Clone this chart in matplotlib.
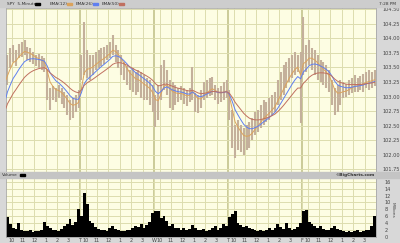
import matplotlib
matplotlib.use("Agg")
import matplotlib.pyplot as plt
import numpy as np
import pandas as pd

# 15-minute bars, 26 per session, 5 sessions
DAY_LETTERS = ["", "T", "W", "T", "F"]
HOUR_LABELS = ["10", "11", "12", "1", "2", "3"]
HOUR_OFFSETS = [2, 6, 10, 14, 18, 22]  # in 15-min bars after 9:30

HIGH = [
    103.72, 103.84, 103.89, 103.80, 103.90, 103.94, 103.97, 103.85, 103.84, 103.77,
    103.72, 103.73, 103.70, 103.66, 103.46, 103.15, 103.18, 103.15, 103.20, 103.15,
    103.08, 103.03, 102.94, 102.98, 103.03, 103.11,
    103.72, 104.28, 103.80, 103.72, 103.72, 103.77, 103.80, 103.84, 103.85, 103.89,
    103.94, 104.06, 103.89, 103.80, 103.72, 103.59, 103.53, 103.46, 103.49, 103.42,
    103.46, 103.42, 103.37, 103.32, 103.29, 103.20,
    103.03, 103.20, 103.54, 103.63, 103.46, 103.29, 103.25, 103.20, 103.15, 103.18,
    103.15, 103.11, 103.15, 103.51, 103.06, 103.03, 103.11, 103.25, 103.29, 103.32,
    103.34, 103.20, 103.15, 103.18, 103.25, 103.29,
    103.11, 102.77, 102.51, 102.60, 102.51, 102.46, 102.51, 102.56, 102.63, 102.74,
    102.77, 102.86, 102.94, 102.91, 102.98, 103.03, 103.08, 103.29, 103.42, 103.54,
    103.59, 103.66, 103.72, 103.77, 103.72, 103.77,
    104.37, 103.89, 103.97, 103.84, 103.80, 103.72, 103.63, 103.59, 103.54, 103.46,
    103.29, 103.15, 103.20, 103.29, 103.25, 103.22, 103.29, 103.32, 103.37, 103.32,
    103.35, 103.39, 103.42, 103.46, 103.42, 103.46,
]
LOW = [
    103.20, 103.49, 103.59, 103.53, 103.66, 103.68, 103.72, 103.63, 103.59, 103.56,
    103.53, 103.49, 103.46, 103.42, 102.94, 102.77, 102.94, 102.91, 102.98, 102.87,
    102.80, 102.68, 102.60, 102.63, 102.74, 102.80,
    103.29, 103.37, 103.32, 103.29, 103.37, 103.46, 103.49, 103.53, 103.56, 103.63,
    103.66, 103.72, 103.59, 103.49, 103.37, 103.29, 103.20, 103.11, 103.08, 103.03,
    103.08, 102.98, 102.94, 102.94, 102.86, 102.74,
    102.48, 102.60, 102.94, 103.11, 103.03, 102.80, 102.77, 102.86, 102.91, 102.94,
    102.87, 102.84, 102.91, 102.94, 102.74, 102.72, 102.80, 102.94, 102.98, 103.01,
    103.03, 102.94, 102.87, 102.91, 102.94, 102.98,
    102.60, 102.12, 101.95, 102.08, 102.05, 102.00, 102.08, 102.12, 102.25, 102.34,
    102.39, 102.46, 102.51, 102.56, 102.60, 102.68, 102.74, 102.86, 102.94, 103.03,
    103.15, 103.25, 103.32, 103.37, 103.42, 102.55,
    103.37, 103.42, 103.54, 103.46, 103.37, 103.29, 103.25, 103.20, 103.15, 103.08,
    102.86, 102.68, 102.74, 102.86, 102.98, 102.99, 103.03, 103.06, 103.08, 103.08,
    103.11, 103.08, 103.15, 103.11, 103.15, 103.18,
]
VOLUME = [  # millions
    5.6, 3.8, 2.6, 2.2, 4.0, 1.8, 1.6, 1.5, 1.8, 1.4, 1.6, 1.5, 1.8, 4.4, 3.2, 2.6,
    2.0, 1.8, 1.6, 2.2, 3.2, 3.8, 5.0, 3.4, 4.2, 8.0,
    6.0, 12.7, 9.6, 4.5, 3.9, 2.8, 2.2, 1.8, 2.0, 1.6, 2.4, 3.0, 2.2, 1.8, 1.6, 1.5,
    2.0, 1.8, 2.6, 3.2, 2.8, 3.8, 2.6, 3.4, 4.2, 7.0,
    7.4, 7.6, 5.5, 6.0, 4.5, 3.2, 3.6, 2.6, 2.4, 2.0, 2.6, 1.8, 2.2, 3.4, 2.4, 2.0,
    1.8, 2.2, 1.6, 1.8, 2.4, 3.0, 2.0, 2.6, 3.6, 3.2,
    5.6, 6.7, 7.5, 4.0, 3.5, 2.8, 3.0, 2.4, 2.2, 1.8, 1.6, 2.0, 1.5, 1.8, 2.4, 2.0,
    2.6, 3.6, 2.8, 2.2, 4.0, 2.4, 2.0, 2.2, 2.8, 4.0,
    7.4, 7.7, 4.2, 3.6, 3.2, 2.6, 3.0, 2.2, 1.8, 2.0, 2.4, 3.0, 2.2, 1.8, 1.5, 1.4,
    1.6, 1.3, 1.6, 1.8, 1.4, 1.6, 1.8, 2.0, 3.0, 6.0,
]

EMA_PERIODS = [12, 26, 50]           # on 5-minute bars
EMA_SEEDS = [103.29, 102.98, 102.80]  # values at the left edge
EMA_COLORS = ["#dba35c", "#5f7ff0", "#c0705f"]

PRICE_TICKS = [101.75 + 0.25 * k for k in range(12)]
VOL_TICKS = list(range(0, 17, 2))

BG = "#fdfde3"
GRID = "#dcdcae"
DAYGRID = "#cbcb98"
BAR = "#c4b09b"

bars_per_day = 26
n = len(HIGH)
x = np.arange(n) + 0.5
mid = (np.array(HIGH) + np.array(LOW)) / 2

fig = plt.figure(figsize=(4.0, 2.43), dpi=100)
fig.patch.set_facecolor("#d8d8d8")

# header strip and separator band
fig.patches.append(plt.Rectangle((0, 1 - 7.5 / 243), 1, 7.5 / 243, transform=fig.transFigure,
                                 color="#cdcdcd", zorder=0))
fig.patches.append(plt.Rectangle((0, 1 - 178 / 243), 1, 6 / 243, transform=fig.transFigure,
                                 color="#c4c4c4", zorder=0))

ax = fig.add_axes([6 / 400, 1 - 172 / 243, 370 / 400, 164.5 / 243])
vax = fig.add_axes([6 / 400, 1 - 236.5 / 243, 370 / 400, 58.5 / 243])

hour_ticks = [d * bars_per_day + o for d in range(5) for o in HOUR_OFFSETS]
day_ticks = [d * bars_per_day for d in range(1, 5)]

for a in (ax, vax):
    a.set_facecolor(BG)
    a.set_xlim(0, n)
    a.set_xticks(hour_ticks)
    a.grid(True, color=GRID, linewidth=0.7)
    a.set_axisbelow(True)
    for d in day_ticks:
        a.axvline(d, color=DAYGRID, linewidth=1.4, zorder=0.5)
    for s in a.spines.values():
        s.set_color("#a8a8a8")
        s.set_linewidth(0.6)
    a.tick_params(length=0, labelsize=3.6, colors="#444444")
    a.yaxis.tick_right()

# price bars
ax.vlines(x, LOW, HIGH, color=BAR, linewidth=1.5, zorder=2)

# EMAs
for period, seed, color in zip(EMA_PERIODS, EMA_SEEDS, EMA_COLORS):
    alpha = 1 - (1 - 2 / (period + 1)) ** 3
    ema = pd.Series(np.r_[seed, mid]).ewm(alpha=alpha, adjust=False).mean().to_numpy()
    ax.plot(np.r_[0, x], ema, color=color, linewidth=0.7, zorder=3)

ax.set_ylim(101.704, 104.531)
ax.set_yticks(PRICE_TICKS)
ax.set_yticklabels([f"{p:.2f}" for p in PRICE_TICKS])
ax.tick_params(axis="y", pad=4.5)
ax.set_xticklabels([])

# volume
vax.bar(x, VOLUME, width=1.0, color="black", linewidth=0, zorder=2)
vax.set_ylim(0, 17.2)
vax.set_yticks(VOL_TICKS)
vax.tick_params(axis="y", pad=6)
vax.set_xticks(hour_ticks + day_ticks)
vax.set_xticklabels(HOUR_LABELS * 5 + [DAY_LETTERS[d] for d in range(1, 5)])
vax.tick_params(axis="x", pad=1.2)

# header legend
fs = 3.1
ty = 1 - 4.0 / 243
fig.text(7 / 400, ty, "SPY  5-Minute", fontsize=fs, va="center", color="#333333")
fig.patches.append(plt.Rectangle((35 / 400, 1 - 5.0 / 243), 4.5 / 400, 2 / 243,
                                 transform=fig.transFigure, color="black"))
legend_items = [("EMA(12)", EMA_COLORS[0], 50), ("EMA(26)", EMA_COLORS[1], 76),
                ("EMA(50)", EMA_COLORS[2], 102)]
for label, color, xpos in legend_items:
    fig.text(xpos / 400, ty, label, fontsize=fs, va="center", color="#333333")
    fig.patches.append(plt.Rectangle(((xpos + 17) / 400, 1 - 5.0 / 243), 4.5 / 400, 2 / 243,
                                     transform=fig.transFigure, color=color))
fig.text(396 / 400, 1 - 3.6 / 243, "7:28 PM", fontsize=fs, va="center", ha="right",
         color="#333333")

fig.text(2 / 400, 1 - 175.3 / 243, "Volume", fontsize=fs, va="center", color="#333333")
fig.patches.append(plt.Rectangle((20 / 400, 1 - 176.2 / 243), 4.5 / 400, 1.8 / 243,
                                 transform=fig.transFigure, color="black"))
fig.text(375 / 400, 1 - 175.3 / 243, "\u00a9BigCharts.com", fontsize=fs, va="center",
         ha="right", color="#333333", fontweight="bold")
fig.text(393 / 400, 1 - 210 / 243, "Millions", fontsize=fs, va="center", ha="center",
         rotation=270, color="#444444")

fig.savefig("out.png", dpi=100, facecolor=fig.get_facecolor())
